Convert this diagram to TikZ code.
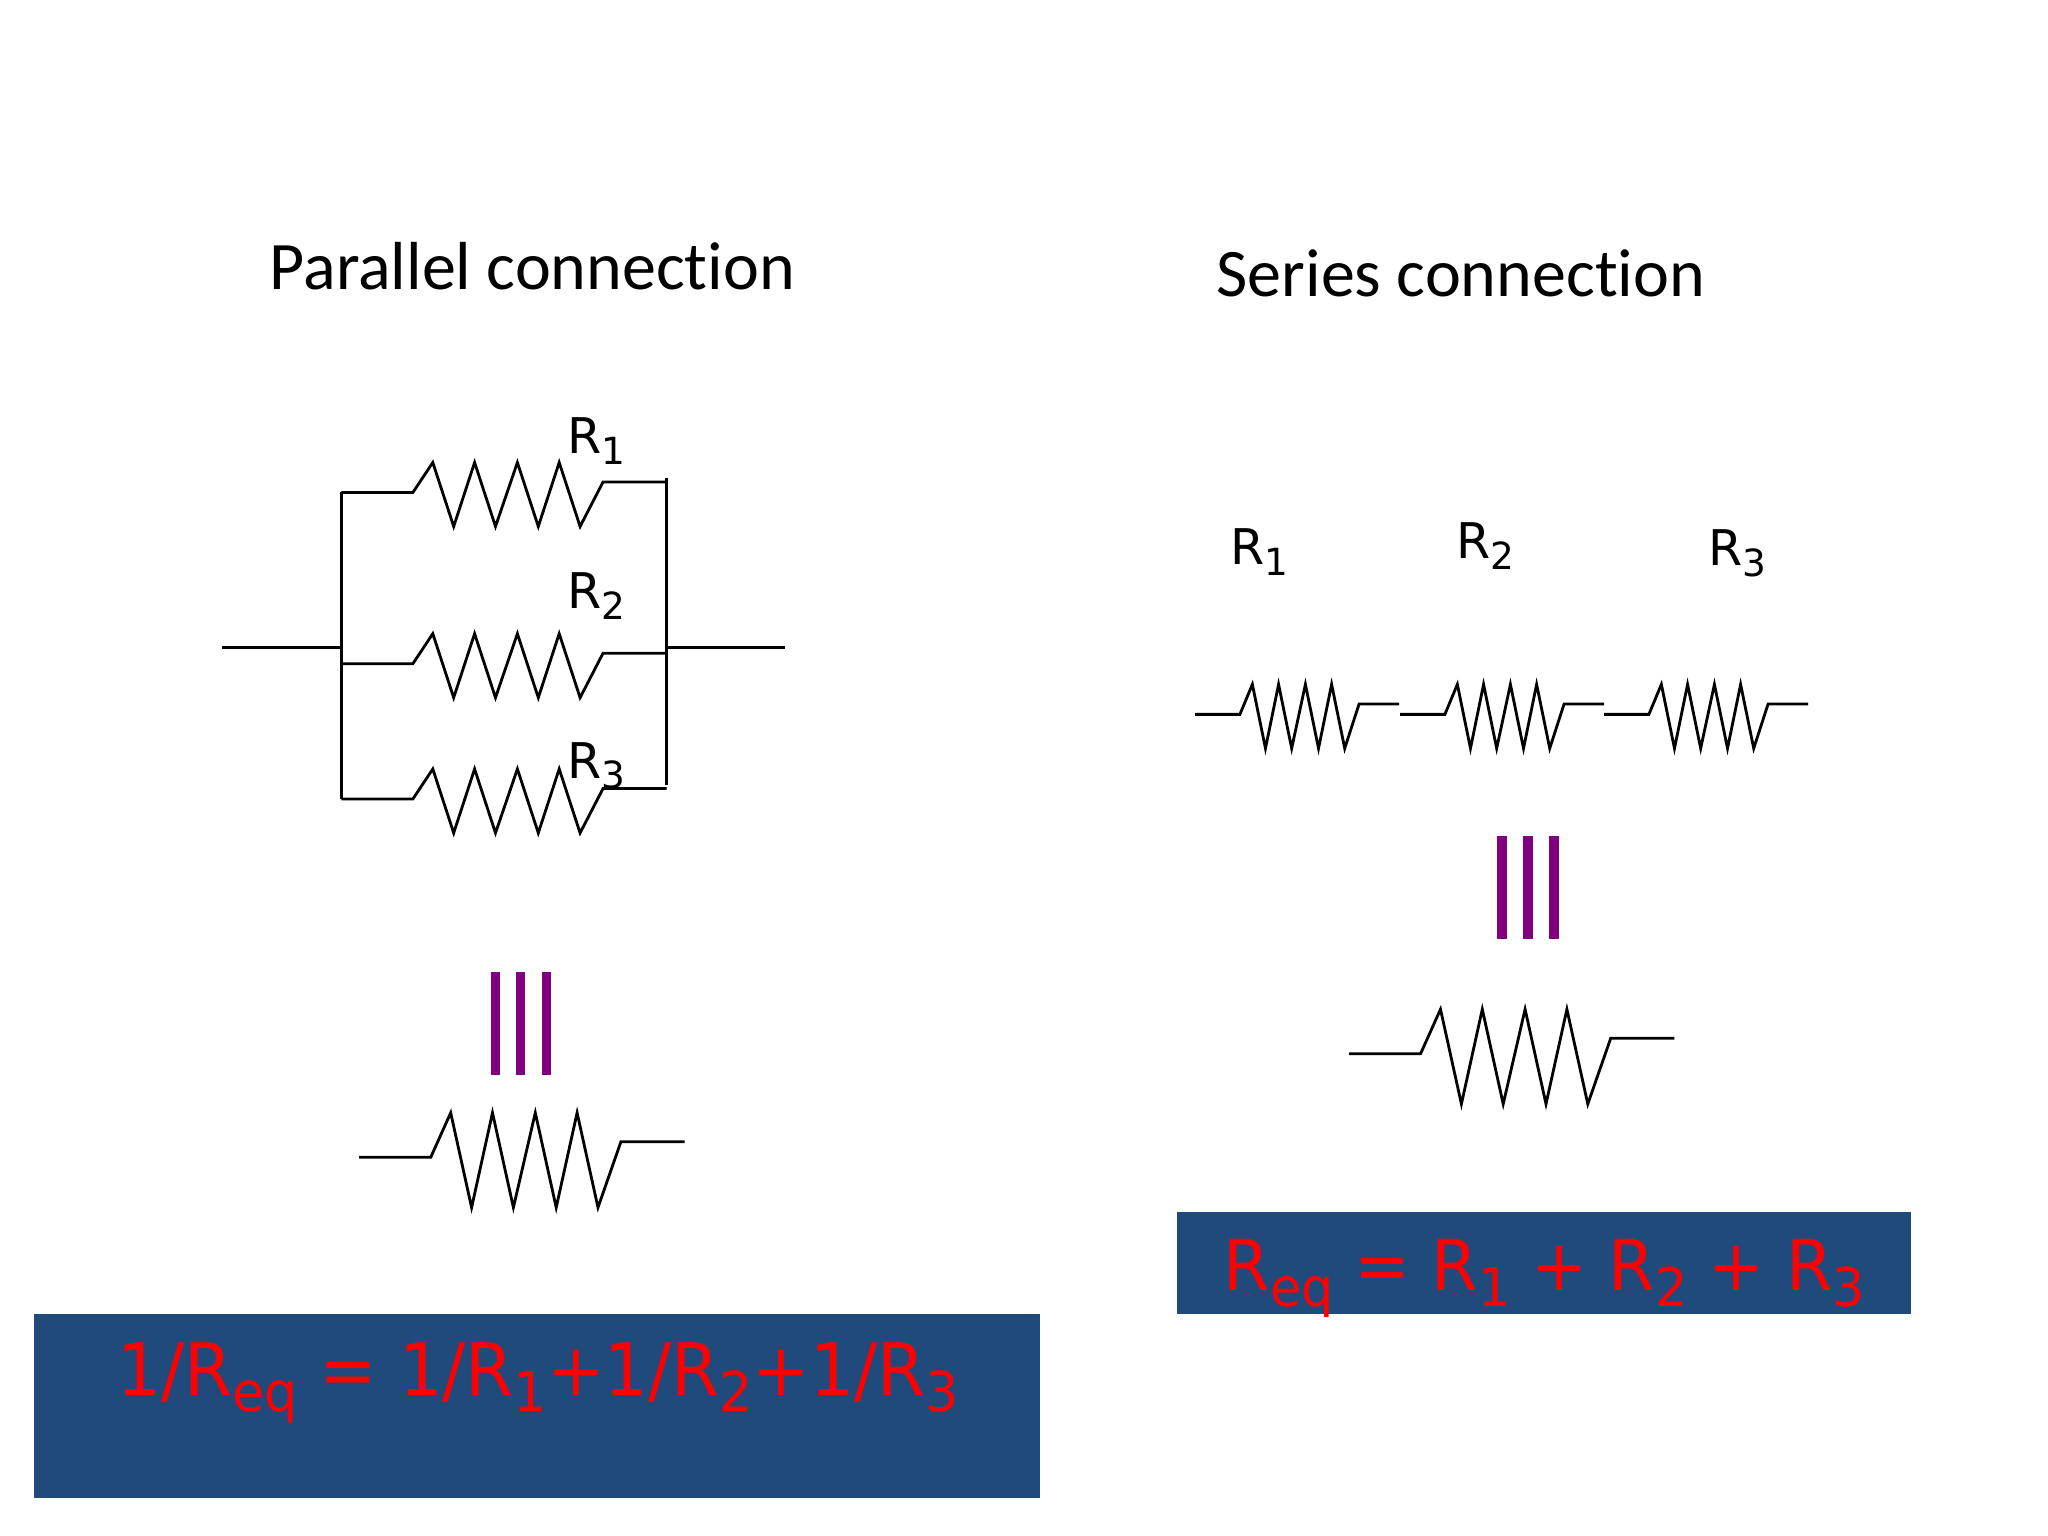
\documentclass[tikz,border=0pt]{standalone}
\usepackage{fontspec}
\setmainfont[Ligatures=CommonOff]{Carlito}
\newfontfamily\rfont{DejaVu Sans}
\newfontfamily\eqfont[FakeStretch=.95]{DejaVu Sans}
\definecolor{eqblue}{HTML}{214A7C}
\definecolor{barpurple}{HTML}{800080}
\newcommand{\low}[1]{\raisebox{-.22em}{\scalebox{.76}{#1}}}
\tikzset{
  wire/.style={line width=.8pt},
  bar/.style={line width=2.6pt,barpurple},
  title/.style={anchor=base west,inner sep=0pt,font=\fontsize{19.35}{23}\selectfont},
  rlabel/.style={anchor=base west,inner sep=0pt,font=\rfont\fontsize{14}{17}\selectfont},
  eqn/.style={anchor=base west,inner sep=0pt,text=red,font=\eqfont\fontsize{20}{24}\selectfont},
  pics/resistor/.style={code={
    \draw[wire] (0,0) -- (.716,0) -- (.915,.30) -- (1.124,-.34) -- (1.333,.30)
      -- (1.542,-.34) -- (1.761,.30) -- (1.970,-.34) -- (2.179,.30) -- (2.388,-.34)
      -- (2.617,.104) -- (3.254,.104);
  }}
}
\begin{document}
\begin{tikzpicture}
\useasboundingbox (0,0) rectangle (20.48,15.36);

\node[title] (ptitle) at (2.69,12.46) {Parallel connection};
\node[title] (stitle) at (12.16,12.39) {Series connection};

% parallel branches
\coordinate (ltop) at (3.413,10.435);
\coordinate (lmid) at (3.413,8.882);
\coordinate (lbot) at (3.413,7.370);
\coordinate (rtop) at (6.667,10.584);
\coordinate (rmid) at (6.667,8.882);
\coordinate (rbot) at (6.667,7.510);
\coordinate (pin) at (2.219,8.882);
\coordinate (pout) at (7.851,8.882);
\draw[wire] (ltop) -- (lbot);
\draw[wire] (rtop) -- (rbot);
\draw[wire] (pin) -- (lmid);
\draw[wire] (rmid) -- (pout);
\pic at (ltop) {resistor};
\pic at (3.413,8.723) {resistor};
\pic at (lbot) {resistor};
\node[rlabel] (pr1) at (5.67,10.823) {R\low{1}};
\node[rlabel] (pr2) at (5.67,9.27) {R\low{2}};
\node[rlabel] (pr3) at (5.67,7.579) {R\low{3}};

\foreach \x in {4.955,5.204,5.463}
  \draw[bar] (\x,5.639) -- (\x,4.614);
\pic[yscale=1.48] at (3.592,3.788) {resistor};

% series branch
\foreach \x in {11.95,14.0,16.04}
  \pic[xscale=.627] at (\x,8.216) {resistor};
\node[rlabel] (sr1) at (12.30,9.718) {R\low{1}};
\node[rlabel] (sr2) at (14.56,9.778) {R\low{2}};
\node[rlabel] (sr3) at (17.08,9.708) {R\low{3}};

\foreach \x in {15.02,15.28,15.54}
  \draw[bar] (\x,7.0) -- (\x,5.967);
\pic[yscale=1.48] at (13.49,4.823) {resistor};

\fill[eqblue] (.338,.375) rectangle (10.40,2.216);
\fill[eqblue] (11.77,2.216) rectangle (19.11,3.241);
\node[eqn,font=\eqfont\fontsize{20.6}{24}\selectfont] (peq) at (1.17,1.406) {1/R\low{eq} = 1/R\low{1}+1/R\low{2}+1/R\low{3}};
\node[eqn] (seq) at (12.23,2.45) {R\low{eq} = R\low{1} + R\low{2} + R\low{3}};
\end{tikzpicture}
\end{document}
